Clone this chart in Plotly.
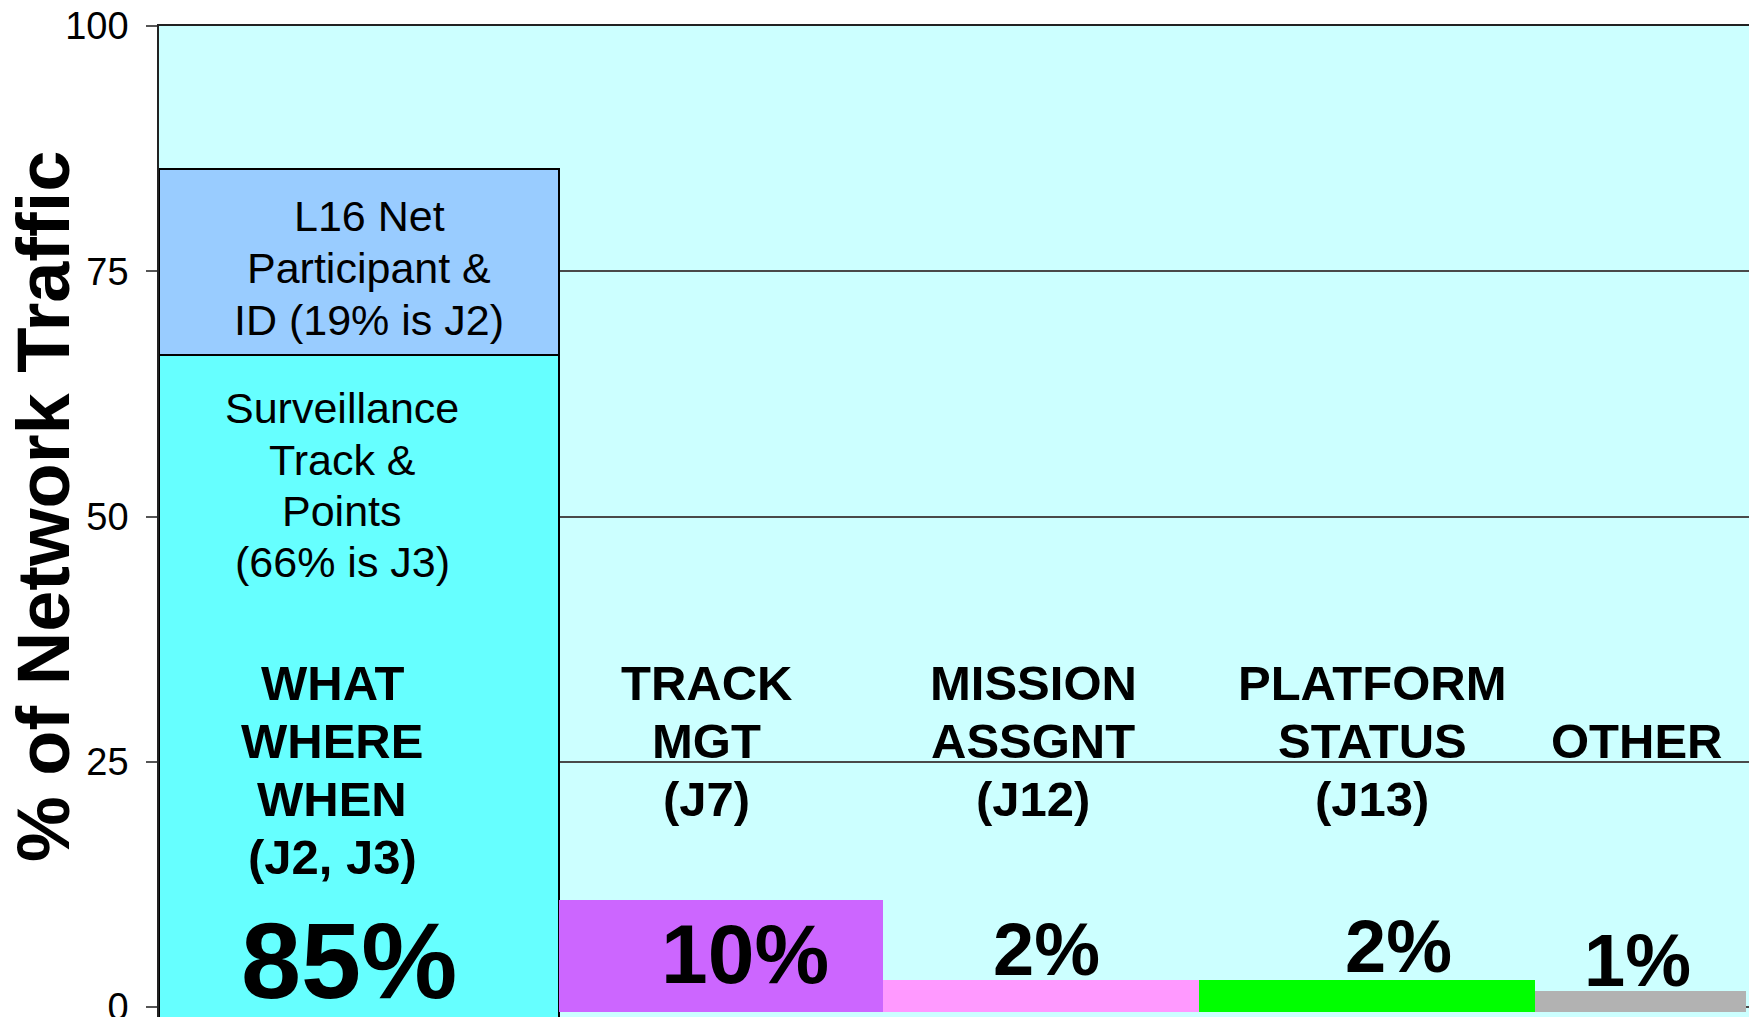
import plotly.graph_objects as go
import numpy as np

# ---------------- data ----------------
categories = ["WHAT WHERE WHEN (J2, J3)", "TRACK MGT (J7)", "MISSION ASSGNT (J12)",
              "PLATFORM STATUS (J13)", "OTHER"]
col_widths = [400, 324, 316, 336, 211]          # relative column widths
surveillance = 66.5                              # first column, lower segment
net_participant = 18.9                           # first column, upper segment
other_values = [10.9, 2.75, 2.75, 1.66]          # columns 2..5
other_colors = ["#CC66FF", "#FF99FF", "#00FF00", "#B2B2B2"]
pct_labels = ["85%", "10%", "2%", "2%", "1%"]
y_ticks = [0, 25, 50, 75, 100]

l16_lines = ["L16 Net", "Participant &", "ID (19% is J2)"]
surv_lines = ["Surveillance", "Track &", "Points", "(66% is J3)"]
cat_lines = [["WHAT", "WHERE", "WHEN", "(J2, J3)"],
             ["TRACK", "MGT", "(J7)"],
             ["MISSION", "ASSGNT", "(J12)"],
             ["PLATFORM", "STATUS", "(J13)"],
             ["OTHER"]]

# ---------------- layout constants ----------------
W, H = 1749, 1017
ML, MT, MB = 159, 26, 0
PPU = 9.81                 # pixels per percentage point
Y_TOP = 100
Y_FLOOR = -(H - MT - MB - Y_TOP * PPU) / PPU   # axis floor (bottom of picture)
BAR_FLOOR = -0.5                                # bottom of the small columns
FONT = "Liberation Sans, Arial, sans-serif"

edges = np.concatenate([[0], np.cumsum(col_widths)])
centers = (edges[:-1] + edges[1:]) / 2
total_w = 1590

plot_h = H - MT - MB
zero_px = MT + Y_TOP * PPU


def py2y(py):
    return (zero_px - py) / PPU


def px2x(px):
    return (px - ML) * total_w / (W - ML)


fig = go.Figure()

# first column: stacked segments
fig.add_trace(go.Bar(x=[centers[0]], y=[surveillance - Y_FLOOR + 1], base=[Y_FLOOR - 1],
                     width=[col_widths[0]], marker=dict(color="#66FFFF",
                     line=dict(color="#000000", width=2)), hoverinfo="skip"))
fig.add_trace(go.Bar(x=[centers[0]], y=[net_participant], base=[surveillance],
                     width=[col_widths[0]], marker=dict(color="#99CCFF",
                     line=dict(color="#000000", width=2)), hoverinfo="skip"))
# remaining columns
fig.add_trace(go.Bar(x=list(centers[1:]), y=[v - BAR_FLOOR for v in other_values],
                     base=[BAR_FLOOR] * len(other_values), width=col_widths[1:],
                     marker=dict(color=other_colors, line=dict(width=0)),
                     hoverinfo="skip"))

annotations = []


def add_lines(lines, xpx, ypxs, size, bold=False):
    for t, ypx in zip(lines, ypxs):
        annotations.append(dict(
            x=px2x(xpx), y=py2y(ypx), xref="x", yref="y",
            text=f"<b>{t}</b>" if bold else t, showarrow=False,
            xanchor="center", yanchor="middle",
            font=dict(family=FONT, size=size, color="#000000")))


add_lines(l16_lines, 369, [216, 268, 320], 43)
add_lines(surv_lines, 342, [408, 460, 511, 562], 43)
add_lines(cat_lines[0], 332, [683, 741, 799, 857], 49, bold=True)
add_lines(cat_lines[1], 706, [683, 741, 799], 49, bold=True)
add_lines(cat_lines[2], 1033, [683, 741, 799], 49, bold=True)
add_lines(cat_lines[3], 1372, [683, 741, 799], 49, bold=True)
add_lines(cat_lines[4], 1637, [741], 49, bold=True)

pct_pos = [(349, 960, 108), (745, 954, 84), (1046, 949, 74), (1398, 946, 74), (1637, 960, 74)]
for lab, (xp, yp, sz) in zip(pct_labels, pct_pos):
    add_lines([lab], xp, [yp], sz, bold=True)

# y-axis title
annotations.append(dict(
    x=(43 - ML) / (W - ML), y=(H - MB - 507) / plot_h, xref="paper", yref="paper",
    text="<b>% of Network Traffic</b>", textangle=-90, showarrow=False,
    xanchor="center", yanchor="middle",
    font=dict(family=FONT, size=74, color="#000000")))

fig.update_layout(
    width=W, height=H,
    margin=dict(l=ML, r=0, t=MT, b=MB, pad=0),
    paper_bgcolor="#FFFFFF", plot_bgcolor="#CCFFFF",
    showlegend=False, barmode="overlay", bargap=0,
    annotations=annotations,
    xaxis=dict(range=[0, total_w], showgrid=False, zeroline=False,
               showticklabels=False, ticks="", showline=True, side="top",
               linecolor="#222222", linewidth=2, fixedrange=True),
    yaxis=dict(range=[Y_FLOOR, Y_TOP], tickvals=y_ticks, ticktext=[str(v) for v in y_ticks],
               showgrid=True, gridcolor="#4a4a4a", gridwidth=1.5, zeroline=False,
               showline=True, linecolor="#222222", linewidth=1.5,
               ticks="outside", ticklen=11, tickcolor="#555555", tickwidth=1.5,
               ticklabelstandoff=10, automargin=False, ticklabeloverflow="allow",
               tickfont=dict(family=FONT, size=38, color="#000000"), fixedrange=True),
)

fig.write_html("out.html", config={"displayModeBar": False},
               post_script="document.body.style.margin='0';document.body.style.overflow='hidden';")
